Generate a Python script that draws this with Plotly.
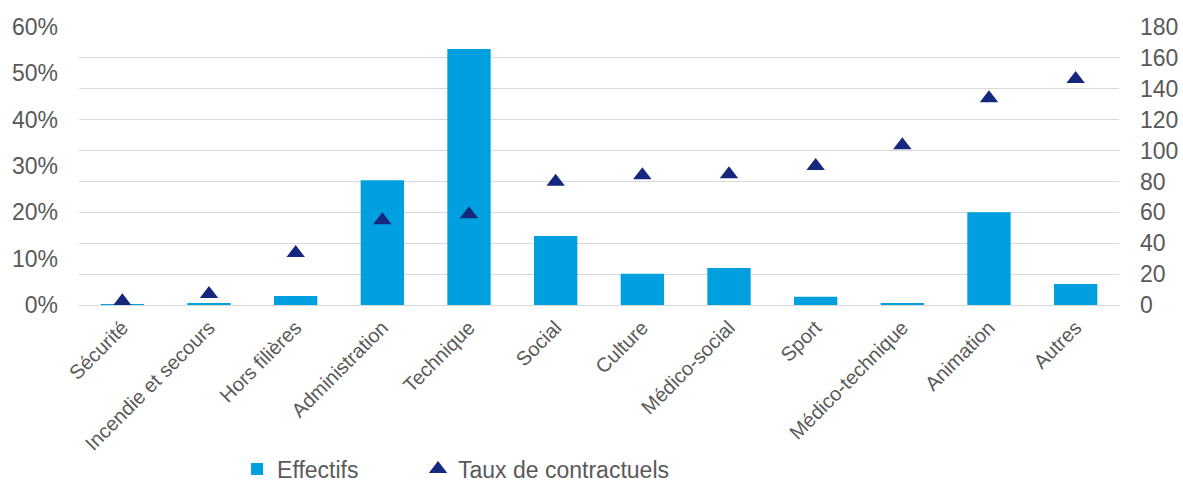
import plotly.graph_objects as go

# ── data ─────────────────────────────────────────────────────────────────────
filieres = ["Sécurité", "Incendie et secours", "Hors filières", "Administration",
            "Technique", "Social", "Culture", "Médico-social", "Sport",
            "Médico-technique", "Animation", "Autres"]
effectifs = [0.5, 1.3, 5.8, 80.7, 165.7, 44.6, 20.3, 24.0, 5.4, 0.7, 60.1, 13.6]
taux_contractuels = [0.008, 0.024, 0.112, 0.183, 0.196, 0.266, 0.280, 0.282,
                     0.300, 0.345, 0.446, 0.488]

# ── style ────────────────────────────────────────────────────────────────────
_FONT = "Liberation Sans, Arial, sans-serif"
_TEXT = "#595959"
_GRID = "#D9D9D9"
_BAR = "#009FDF"
_MARK = "#16287E"

fig = go.Figure()
fig.add_trace(go.Bar(
    x=filieres, y=effectifs, name="Effectifs",
    marker=dict(color=_BAR, line=dict(width=0)),
    yaxis="y", legend="legend",
))
fig.add_trace(go.Scatter(
    x=filieres, y=taux_contractuels, name="Taux de contractuels",
    mode="markers",
    marker=dict(symbol="triangle-up", size=16, color=_MARK),
    yaxis="y2", legend="legend2",
))

# two legends so the gap between the entries can match the original
_legend = dict(orientation="h", xanchor="left", y=-0.59, yanchor="middle",
               font=dict(size=23, color=_TEXT), bgcolor="rgba(0,0,0,0)")

fig.update_layout(
    width=1183, height=483,
    margin=dict(l=79, r=64, t=27, b=178, autoexpand=False),
    paper_bgcolor="white", plot_bgcolor="white",
    font=dict(family=_FONT, color=_TEXT, size=23),
    bargap=0.5,
    showlegend=True,
    legend=dict(_legend, x=0.152),
    legend2=dict(_legend, x=0.326),
    xaxis=dict(
        range=[-0.5, 11.5],
        tickangle=-45, tickfont=dict(size=20, color=_TEXT),
        showgrid=False, showline=True, linecolor=_GRID, linewidth=1,
        ticks="", automargin=False, ticklabelstandoff=2,
    ),
    yaxis=dict(
        side="right", range=[0, 180], dtick=20,
        showgrid=True, gridcolor=_GRID, gridwidth=1,
        zeroline=False, showline=False, ticks="",
        tickfont=dict(size=23, color=_TEXT), ticklabelstandoff=20,
        automargin=False,
    ),
    yaxis2=dict(
        side="left", overlaying="y", range=[0, 0.6], dtick=0.1,
        tickformat=".0%", showgrid=False, zeroline=False, showline=False,
        ticks="", tickfont=dict(size=23, color=_TEXT), ticklabelstandoff=20,
        automargin=False,
    ),
)

# the page body has a default 8px margin; drop it so the chart fits the window
fig.write_html("out.html", config={"displayModeBar": False},
               post_script="document.body.style.margin='0';")
